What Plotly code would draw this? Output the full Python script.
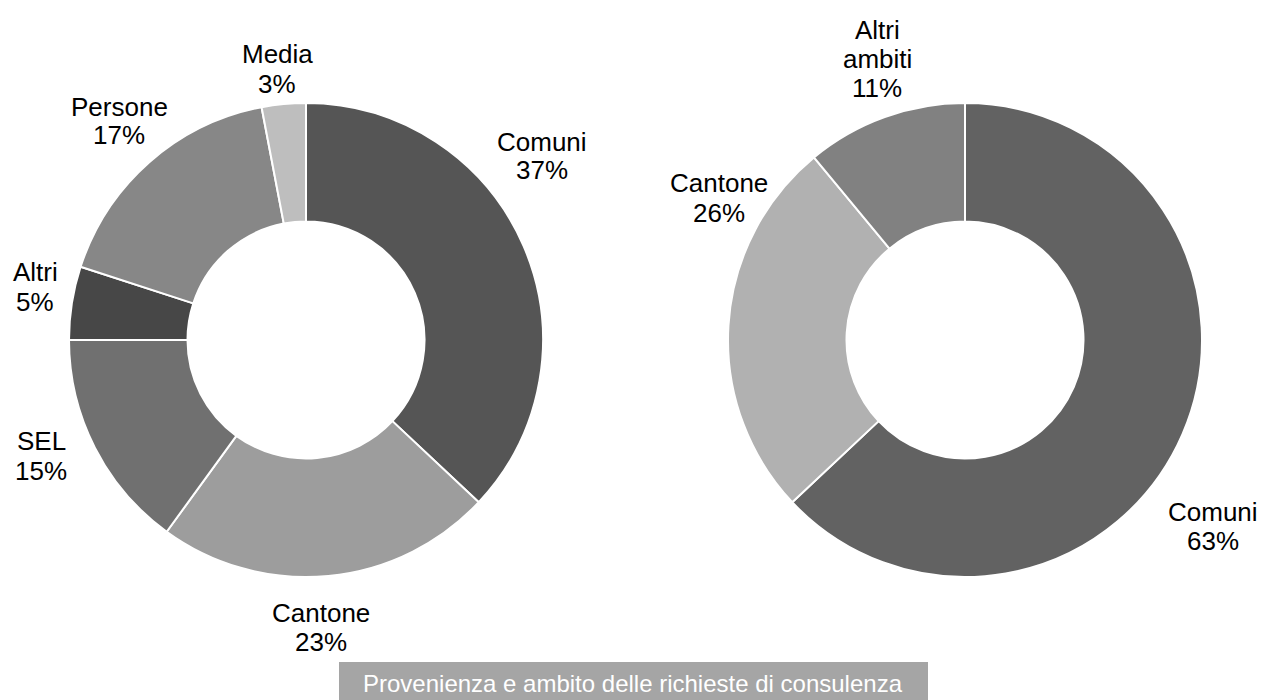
import plotly.graph_objects as go

# ---- data ----
left_labels = ["Comuni", "Cantone", "SEL", "Altri", "Persone", "Media"]
left_values = [37, 23, 15, 5, 17, 3]
right_labels = ["Comuni", "Cantone", "Altri ambiti"]
right_values = [63, 26, 11]
title_text = "Provenienza e ambito delle richieste di consulenza"

# ---- styles / positions ----
W, H = 1265, 700
left_colors = ["#555555", "#9d9d9d", "#707070", "#474747", "#878787", "#bebebe"]
right_colors = ["#626262", "#b1b1b1", "#818181"]
# label block centres in pixels (x, y from top)
left_label_pos = [(542, 156), (321, 627), (41, 456), (35, 287), (119, 121), (277, 69)]
right_label_pos = [(1213, 526), (719, 198), (877, 59)]
right_wrap = {"Altri ambiti": ["Altri", "ambiti"]}
line_gap = 29
FONT = "Liberation Sans, Arial, sans-serif"


def px_x(x):
    return x / W


def px_y(y):
    return 1 - y / H


fig = go.Figure()

fig.add_trace(go.Pie(
    labels=left_labels, values=left_values, sort=False, direction="clockwise",
    rotation=0, hole=0.5, textinfo="none", hoverinfo="label+percent",
    marker=dict(colors=left_colors, line=dict(color="white", width=2)),
    domain=dict(x=[px_x(69), px_x(543)], y=[px_y(577), px_y(103)]),
    showlegend=False,
))
fig.add_trace(go.Pie(
    labels=right_labels, values=right_values, sort=False, direction="clockwise",
    rotation=0, hole=0.5, textinfo="none", hoverinfo="label+percent",
    marker=dict(colors=right_colors, line=dict(color="white", width=2)),
    domain=dict(x=[px_x(728), px_x(1202)], y=[px_y(577), px_y(103)]),
    showlegend=False,
))

annotations = []


def add_labels(labels, values, positions, wrap):
    for lab, val, (cx, cy) in zip(labels, values, positions):
        lines = wrap.get(lab, [lab]) + [f"{val}%"]
        n = len(lines)
        for i, line in enumerate(lines):
            y = cy + (i - (n - 1) / 2) * line_gap
            annotations.append(dict(
                x=px_x(cx), y=px_y(y), xref="paper", yref="paper",
                text=line, showarrow=False, xanchor="center", yanchor="middle",
                font=dict(family=FONT, size=26, color="#000000"),
            ))


add_labels(left_labels, left_values, left_label_pos, {})
add_labels(right_labels, right_values, right_label_pos, right_wrap)

annotations.append(dict(
    x=0.5, y=px_y(683), xref="paper", yref="paper", text=title_text,
    showarrow=False, xanchor="center", yanchor="middle",
    font=dict(family=FONT, size=24, color="#ffffff"),
))

fig.update_layout(
    width=W, height=H,
    margin=dict(l=0, r=0, t=0, b=0),
    paper_bgcolor="white", plot_bgcolor="white",
    annotations=annotations,
    shapes=[dict(type="rect", xref="paper", yref="paper",
                 x0=px_x(339), x1=px_x(928), y0=0, y1=px_y(662),
                 fillcolor="#a5a5a5", line=dict(width=0), layer="below")],
)

fig.write_html(
    "out.html",
    config={"displayModeBar": False},
    post_script="document.body.style.margin='0';document.body.style.overflow='hidden';",
)
